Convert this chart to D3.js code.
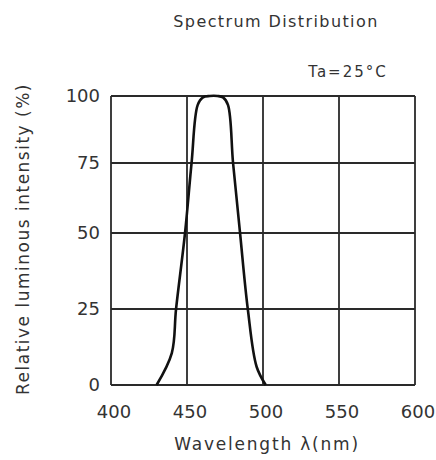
<!DOCTYPE html>
<html>
<head>
<meta charset="utf-8">
<script src="https://cdn.jsdelivr.net/npm/d3@7"></script>
<style>
  body { margin: 0; background: #fff; }
  text { font-family: "DejaVu Sans", sans-serif; fill: #333; }
</style>
</head>
<body>
<div id="chart"></div>
<script>
// data
const xTicks = [400, 450, 500, 550, 600];
const yTicks = [0, 25, 50, 75, 100];
const wavelength = [430, 440, 442.8, 448.7, 453, 457, 460.5, 465, 470, 473.7, 477, 480.3, 484.9, 490, 495.8, 501.8];
const intensity  = [0, 10.5, 25, 50, 75, 96.6, 99.5, 100, 100, 99.5, 96.6, 75, 50, 25, 6, 0];

const width = 436;
const height = 460;

const svg = d3.select("#chart").append("svg").attr("width", width).attr("height", height);

const xScale = d3.scaleLinear().domain([400, 600]).range([111, 415]);
// the printed grid is not evenly spaced, so the scale follows the printed lines
const yScale = d3.scaleLinear().domain(yTicks).range([385, 309, 233, 163, 96]);

// grid
svg.selectAll(".vgrid")
  .data(xTicks)
  .join("line")
  .attr("x1", d => xScale(d)).attr("x2", d => xScale(d))
  .attr("y1", yScale(0)).attr("y2", yScale(100))
  .attr("stroke", "#2a2a2a").attr("stroke-width", 1.8);
svg.selectAll(".hgrid")
  .data(yTicks)
  .join("line")
  .attr("x1", xScale(400)).attr("x2", xScale(600))
  .attr("y1", d => yScale(d)).attr("y2", d => yScale(d))
  .attr("stroke", "#2a2a2a").attr("stroke-width", 1.8);

// curve
const line = d3.line()
  .x((d, i) => xScale(wavelength[i]))
  .y(d => yScale(d))
  .curve(d3.curveCatmullRom.alpha(0.5));
svg.append("path")
  .attr("d", line(intensity))
  .attr("fill", "none")
  .attr("stroke", "#111")
  .attr("stroke-width", 2.6);

// tick labels
svg.selectAll(".xlab")
  .data(xTicks)
  .join("text")
  .attr("x", d => xScale(d) + 3)
  .attr("y", 418)
  .attr("text-anchor", "middle")
  .attr("font-size", 18)
  .text(d => d);
svg.selectAll(".ylab")
  .data(yTicks)
  .join("text")
  .attr("x", 100)
  .attr("y", d => yScale(d) + 6)
  .attr("text-anchor", "end")
  .attr("font-size", 18)
  .text(d => d);

// titles
svg.append("text")
  .attr("x", 276).attr("y", 27)
  .attr("text-anchor", "middle")
  .attr("font-size", 16)
  .attr("letter-spacing", 1.4)
  .text("Spectrum Distribution");
svg.append("text")
  .attr("x", 348).attr("y", 77)
  .attr("text-anchor", "middle")
  .attr("font-size", 15)
  .attr("letter-spacing", 2)
  .text("Ta=25°C");
svg.append("text")
  .attr("x", 267).attr("y", 450)
  .attr("text-anchor", "middle")
  .attr("font-size", 17)
  .attr("letter-spacing", 1.8)
  .text("Wavelength  λ(nm)");
svg.append("text")
  .attr("transform", "translate(29,239) rotate(-90)")
  .attr("text-anchor", "middle")
  .attr("font-size", 17)
  .attr("letter-spacing", 1.5)
  .text("Relative luminous intensity  (%)");
</script>
</body>
</html>
